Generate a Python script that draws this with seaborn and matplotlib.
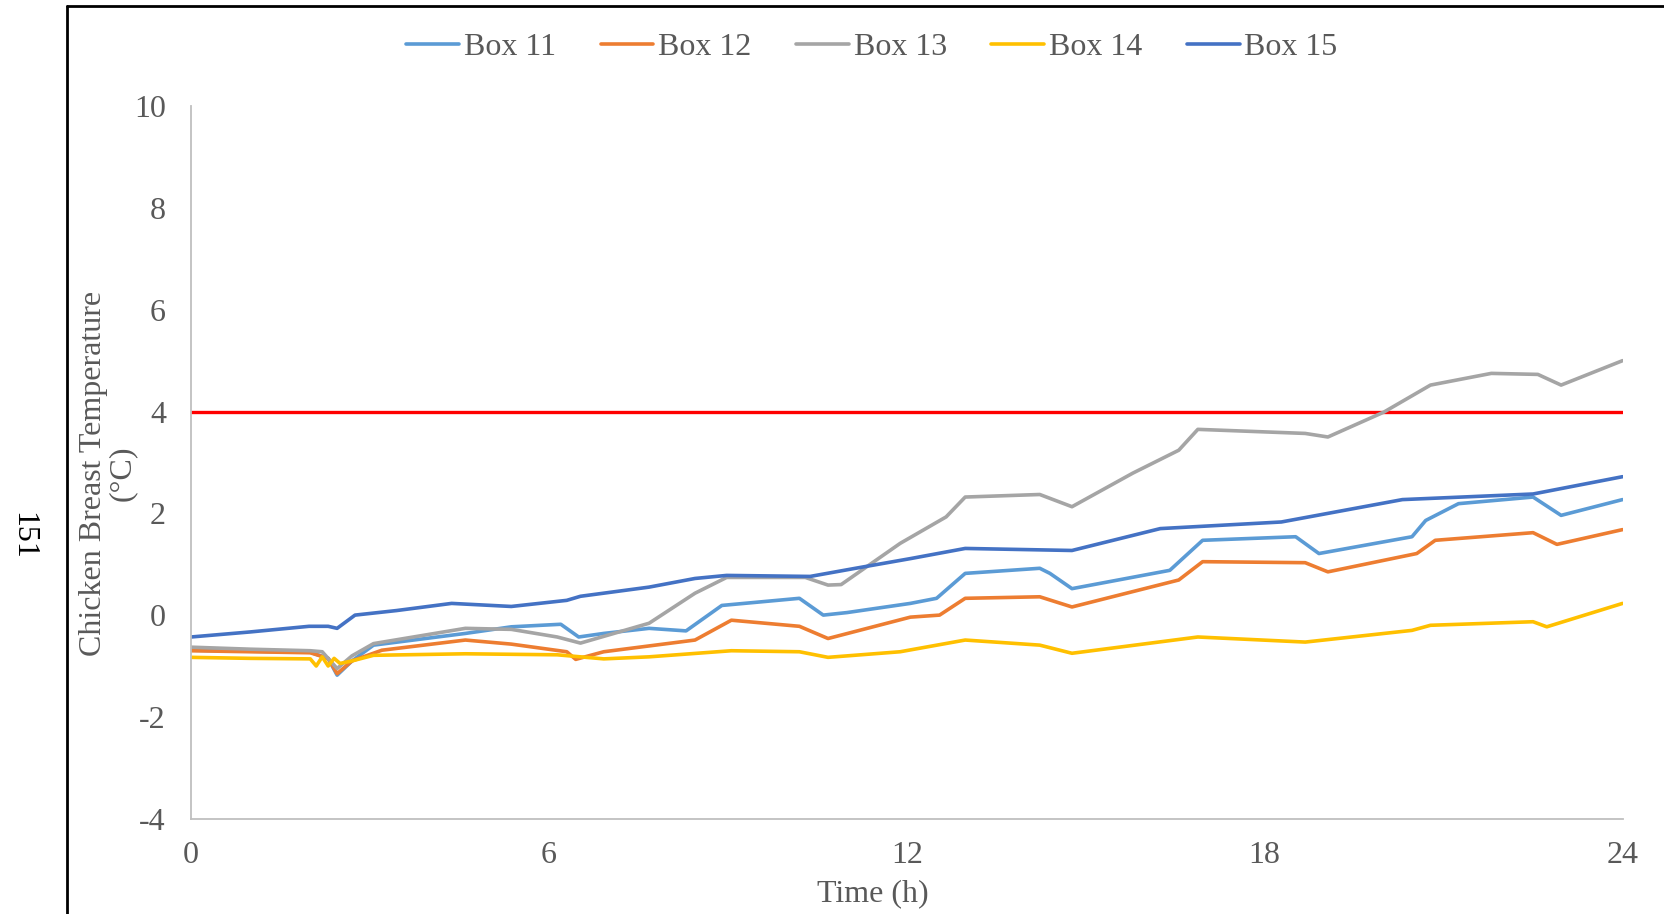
import numpy as np
import pandas as pd
import seaborn as sns
import matplotlib.pyplot as plt
from matplotlib.lines import Line2D

# -------------------------
# Data (time in h, temperature in °C)
# -------------------------
t_box11 = [0, 1, 2, 2.3, 2.45, 2.7, 3.06, 4.6, 5.37, 6.2, 6.5, 6.92, 7.68, 8.3, 8.9, 10.2, 10.6, 11.0,
           12.06, 12.5, 12.98, 14.23, 14.4, 14.77, 16.41, 16.96, 18.52, 18.91, 20.47, 20.7, 21.25, 22.5, 22.97, 24]
box11 = [-0.69, -0.71, -0.73, -0.85, -1.18, -0.90, -0.59, -0.36, -0.23, -0.18, -0.43, -0.36, -0.26, -0.31, 0.19, 0.33, 0.00, 0.05,
         0.23, 0.33, 0.82, 0.92, 0.82, 0.52, 0.88, 1.47, 1.54, 1.21, 1.54, 1.86, 2.19, 2.32, 1.96, 2.27]

t_box12 = [0, 1, 2, 2.3, 2.45, 2.7, 3.2, 4.6, 5.37, 6.3, 6.45, 6.92, 8.45, 9.06, 10.2, 10.68,
           12.06, 12.55, 12.98, 14.23, 14.77, 16.56, 16.96, 18.68, 19.06, 20.55, 20.86, 22.5, 22.9, 24]
box12 = [-0.70, -0.72, -0.74, -0.85, -1.15, -0.90, -0.69, -0.49, -0.57, -0.72, -0.87, -0.72, -0.49, -0.10, -0.22, -0.46,
         -0.04, 0.00, 0.33, 0.36, 0.16, 0.69, 1.05, 1.03, 0.85, 1.21, 1.47, 1.62, 1.39, 1.68]

t_box13 = [0, 1, 2, 2.2, 2.45, 2.7, 3.06, 4.6, 5.37, 6.14, 6.53, 7.68, 8.45, 8.98, 10.3, 10.68, 10.9,
           11.89, 12.66, 12.98, 14.23, 14.77, 15.79, 16.56, 16.88, 18.68, 19.06, 20.0, 20.78, 21.8, 22.58, 22.97, 24]
box13 = [-0.63, -0.67, -0.70, -0.72, -1.05, -0.80, -0.56, -0.26, -0.28, -0.43, -0.55, -0.16, 0.43, 0.74, 0.74, 0.59, 0.60,
         1.41, 1.93, 2.32, 2.37, 2.13, 2.79, 3.24, 3.65, 3.57, 3.50, 3.99, 4.52, 4.75, 4.73, 4.52, 5.00]

t_box14 = [0, 1, 2, 2.1, 2.2, 2.3, 2.4, 2.5, 2.7, 3.06, 4.6, 6.14, 6.92, 7.68, 9.06, 10.2, 10.68,
           11.89, 12.98, 14.23, 14.77, 16.88, 18.68, 20.47, 20.78, 22.5, 22.73, 24]
box14 = [-0.83, -0.85, -0.86, -1.00, -0.82, -1.00, -0.85, -0.95, -0.90, -0.79, -0.76, -0.78, -0.86, -0.82, -0.70, -0.72, -0.83,
         -0.72, -0.49, -0.59, -0.75, -0.43, -0.53, -0.30, -0.20, -0.13, -0.23, 0.23]

t_box15 = [0, 1, 1.98, 2.3, 2.45, 2.75, 3.45, 4.37, 5.37, 6.3, 6.53, 7.68, 8.45, 8.98, 10.38, 11.14,
           12.06, 12.98, 14.77, 16.25, 18.28, 20.31, 22.5, 24]
box15 = [-0.43, -0.33, -0.22, -0.22, -0.26, 0.00, 0.09, 0.23, 0.17, 0.29, 0.37, 0.55, 0.72, 0.78, 0.76, 0.92,
         1.11, 1.31, 1.27, 1.70, 1.83, 2.27, 2.38, 2.72]

limit_temp = 4

series_names = ["Box 11", "Box 12", "Box 13", "Box 14", "Box 15"]
series_colors = ["#5B9BD5", "#ED7D31", "#A5A5A5", "#FFC000", "#4472C4"]

# build a long table for seaborn
frames = []
for name, tt, vv in zip(series_names,
                        [t_box11, t_box12, t_box13, t_box14, t_box15],
                        [box11, box12, box13, box14, box15]):
    frames.append(pd.DataFrame({"Time": tt, "Temp": vv, "Box": name}))
df = pd.concat(frames, ignore_index=True)

# =========================
# Plot
# =========================
sns.set_style("white")
plt.rcParams['font.family'] = ['Liberation Serif', 'DejaVu Serif']
plt.rcParams['axes.unicode_minus'] = False
text_col = "#595959"

fig = plt.figure(figsize=(16.65, 9.14), dpi=100)
ax = fig.add_axes([0.1147, 0.1043, 0.8598, 0.7795])

sns.lineplot(data=df, x="Time", y="Temp", hue="Box", palette=series_colors,
             hue_order=series_names, linewidth=2.6, sort=True, ax=ax, legend=False)
ax.axhline(limit_temp, color="#FF0000", linewidth=2.4, zorder=1)

ax.set_xlim(0, 24)
ax.set_ylim(-4, 10)
ax.set_xticks([0, 6, 12, 18, 24])
ax.set_yticks(np.arange(-4, 11, 2))
ax.tick_params(axis='both', length=0, labelsize=23, labelcolor=text_col)
ax.tick_params(axis='x', pad=16)
ax.tick_params(axis='y', pad=18)

for s in ['top', 'right']:
    ax.spines[s].set_visible(False)
for s in ['left', 'bottom']:
    ax.spines[s].set_color("#BFBFBF")
    ax.spines[s].set_linewidth(1.3)

ax.set_xlabel("Time (h)", fontsize=23, color=text_col, va='center')
ax.xaxis.set_label_coords(0.476, -0.106)
ax.set_ylabel("Chicken Breast Temperature\n(°C)", fontsize=23, color=text_col,
              linespacing=0.95, va='center')
ax.yaxis.set_label_coords(-0.058, 0.485)

handles = [Line2D([0], [0], color=c, linewidth=2.6) for c in series_colors]
fig.legend(handles, series_names, loc='center', bbox_to_anchor=(872 / 1665, 1 - 47.5 / 914),
           ncol=5, frameon=False, fontsize=23, handlelength=1.65, handletextpad=0.15,
           columnspacing=1.4, labelcolor=text_col)

# page border and page number
fig.add_artist(Line2D([67 / 1665, 67 / 1665], [0, 1 - 5.5 / 914], color="black", linewidth=2, transform=fig.transFigure))
fig.add_artist(Line2D([67 / 1665, 1], [1 - 5.5 / 914, 1 - 5.5 / 914], color="black", linewidth=2, transform=fig.transFigure))
fig.text(23 / 1665, 1 - 536 / 914, "151", rotation=270, fontsize=23, color="black", ha='center', va='center')

fig.savefig("out.png", dpi=100)
